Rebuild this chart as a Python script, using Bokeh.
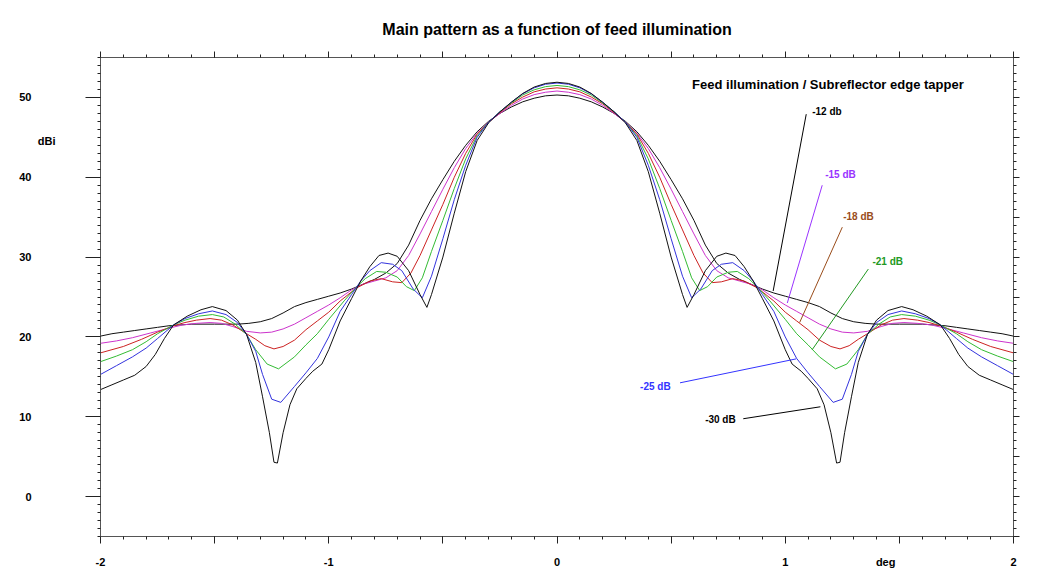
from bokeh.plotting import figure
from bokeh.models import LinearAxis, SingleIntervalTicker, FixedTicker, CustomLabelingPolicy
from bokeh.core.properties import value
from bokeh.embed import file_html
from bokeh.resources import INLINE

# ---------------- data ----------------
x_m12 = [-2.0, -1.95, -1.9, -1.85, -1.8, -1.75, -1.7, -1.6, -1.5, -1.4, -1.35, -1.3, -1.25, -1.2, -1.15, -1.1, -1.05, -1.0, -0.95, -0.9, -0.85, -0.8, -0.75, -0.7, -0.65, -0.6, -0.55, -0.5, -0.45, -0.4, -0.35, -0.3, -0.25, -0.2, -0.15, -0.1, -0.05, 0.0, 0.05, 0.1, 0.15, 0.2, 0.25, 0.3, 0.35, 0.4, 0.45, 0.5, 0.55, 0.6, 0.65, 0.7, 0.75, 0.8, 0.85, 0.9, 0.95, 1.0, 1.05, 1.1, 1.15, 1.2, 1.25, 1.3, 1.35, 1.4, 1.5, 1.6, 1.7, 1.75, 1.8, 1.85, 1.9, 1.95, 2.0]
y_m12 = [20.1, 20.4, 20.6, 20.8, 21.0, 21.2, 21.4, 21.6, 21.6, 21.6, 21.7, 21.9, 22.3, 23.0, 23.8, 24.3, 24.7, 25.1, 25.5, 26.0, 26.6, 27.2, 28.0, 29.2, 31.5, 34.6, 37.3, 39.7, 42.0, 44.0, 45.7, 47.0, 48.0, 48.8, 49.45, 49.9, 50.2, 50.3, 50.2, 49.9, 49.45, 48.8, 48.0, 47.0, 45.7, 44.0, 42.0, 39.7, 37.3, 34.6, 31.5, 29.2, 28.0, 27.2, 26.6, 26.0, 25.5, 25.1, 24.7, 24.3, 23.8, 23.0, 22.3, 21.9, 21.7, 21.6, 21.6, 21.6, 21.4, 21.2, 21.0, 20.8, 20.6, 20.4, 20.1]

x_m15 = [-2.0, -1.93, -1.86, -1.78, -1.7, -1.64, -1.58, -1.52, -1.47, -1.42, -1.36, -1.3, -1.25, -1.2, -1.15, -1.1, -1.05, -1.0, -0.95, -0.9, -0.85, -0.8, -0.75, -0.7, -0.65, -0.6, -0.55, -0.5, -0.45, -0.4, -0.35, -0.3, -0.25, -0.2, -0.15, -0.1, -0.05, 0.0, 0.05, 0.1, 0.15, 0.2, 0.25, 0.3, 0.35, 0.4, 0.45, 0.5, 0.55, 0.6, 0.65, 0.7, 0.75, 0.8, 0.85, 0.9, 0.95, 1.0, 1.05, 1.1, 1.15, 1.2, 1.25, 1.3, 1.36, 1.42, 1.47, 1.52, 1.58, 1.64, 1.7, 1.78, 1.86, 1.93, 2.0]
y_m15 = [19.2, 19.5, 19.9, 20.5, 21.1, 21.5, 21.7, 21.8, 21.7, 21.3, 20.7, 20.5, 20.6, 21.0, 21.6, 22.4, 23.2, 24.0, 24.9, 25.9, 26.6, 27.0, 27.4, 28.3, 30.2, 32.9, 35.7, 38.5, 41.2, 43.6, 45.5, 46.9, 48.0, 49.0, 49.8, 50.35, 50.65, 50.8, 50.65, 50.35, 49.8, 49.0, 48.0, 46.9, 45.5, 43.6, 41.2, 38.5, 35.7, 32.9, 30.2, 28.3, 27.4, 27.0, 26.6, 25.9, 24.9, 24.0, 23.2, 22.4, 21.6, 21.0, 20.6, 20.5, 20.7, 21.3, 21.7, 21.8, 21.7, 21.5, 21.1, 20.5, 19.9, 19.5, 19.2]

x_m18 = [-2.0, -1.9, -1.82, -1.75, -1.68, -1.63, -1.58, -1.52, -1.47, -1.42, -1.36, -1.32, -1.28, -1.24, -1.2, -1.15, -1.1, -1.05, -1.0, -0.95, -0.88, -0.82, -0.77, -0.72, -0.68, -0.64, -0.6, -0.55, -0.5, -0.45, -0.4, -0.35, -0.3, -0.25, -0.2, -0.15, -0.1, -0.05, 0.0, 0.05, 0.1, 0.15, 0.2, 0.25, 0.3, 0.35, 0.4, 0.45, 0.5, 0.55, 0.6, 0.64, 0.68, 0.72, 0.77, 0.82, 0.88, 0.95, 1.0, 1.05, 1.1, 1.15, 1.2, 1.24, 1.28, 1.32, 1.36, 1.42, 1.47, 1.52, 1.58, 1.63, 1.68, 1.75, 1.82, 1.9, 2.0]
y_m18 = [18.0, 18.8, 19.7, 20.6, 21.4, 21.8, 22.1, 22.3, 22.1, 21.5, 20.4, 19.7, 18.9, 18.5, 18.8, 19.6, 20.9, 22.0, 23.1, 24.5, 26.1, 27.0, 27.3, 26.9, 26.8, 28.0, 30.2, 33.4, 36.6, 40.0, 43.0, 45.4, 46.9, 48.1, 49.2, 50.05, 50.7, 51.05, 51.2, 51.05, 50.7, 50.05, 49.2, 48.1, 46.9, 45.4, 43.0, 40.0, 36.6, 33.4, 30.2, 28.0, 26.8, 26.9, 27.3, 27.0, 26.1, 24.5, 23.1, 22.0, 20.9, 19.6, 18.8, 18.5, 18.9, 19.7, 20.4, 21.5, 22.1, 22.3, 22.1, 21.8, 21.4, 20.6, 19.7, 18.8, 18.0]

x_m21 = [-2.0, -1.93, -1.86, -1.8, -1.75, -1.68, -1.63, -1.57, -1.51, -1.46, -1.41, -1.36, -1.32, -1.27, -1.22, -1.15, -1.1, -1.05, -1.0, -0.93, -0.88, -0.84, -0.79, -0.75, -0.7, -0.66, -0.625, -0.59, -0.55, -0.5, -0.45, -0.4, -0.35, -0.3, -0.25, -0.2, -0.15, -0.1, -0.05, 0.0, 0.05, 0.1, 0.15, 0.2, 0.25, 0.3, 0.35, 0.4, 0.45, 0.5, 0.55, 0.59, 0.625, 0.66, 0.7, 0.75, 0.79, 0.84, 0.88, 0.93, 1.0, 1.05, 1.1, 1.15, 1.22, 1.27, 1.32, 1.36, 1.41, 1.46, 1.51, 1.57, 1.63, 1.68, 1.75, 1.8, 1.86, 1.93, 2.0]
y_m21 = [16.9, 17.6, 18.4, 19.4, 20.4, 21.5, 22.1, 22.6, 22.8, 22.5, 21.6, 20.3, 18.4, 16.6, 16.0, 17.5, 19.0, 20.4, 22.2, 24.6, 26.2, 27.3, 28.2, 28.1, 27.5, 26.3, 25.8, 27.4, 30.7, 34.6, 38.6, 42.3, 45.2, 46.9, 48.2, 49.3, 50.3, 50.95, 51.35, 51.5, 51.35, 50.95, 50.3, 49.3, 48.2, 46.9, 45.2, 42.3, 38.6, 34.6, 30.7, 27.4, 25.8, 26.3, 27.5, 28.1, 28.2, 27.3, 26.2, 24.6, 22.2, 20.4, 19.0, 17.5, 16.0, 16.6, 18.4, 20.3, 21.6, 22.5, 22.8, 22.6, 22.1, 21.5, 20.4, 19.4, 18.4, 17.6, 16.9]

x_m25 = [-2.0, -1.93, -1.86, -1.8, -1.75, -1.68, -1.63, -1.57, -1.51, -1.45, -1.4, -1.36, -1.32, -1.29, -1.25, -1.21, -1.15, -1.1, -1.05, -1.0, -0.95, -0.9, -0.86, -0.82, -0.77, -0.72, -0.68, -0.63, -0.59, -0.55, -0.5, -0.45, -0.4, -0.35, -0.3, -0.25, -0.2, -0.15, -0.1, -0.05, 0.0, 0.05, 0.1, 0.15, 0.2, 0.25, 0.3, 0.35, 0.4, 0.45, 0.5, 0.55, 0.59, 0.63, 0.68, 0.72, 0.77, 0.82, 0.86, 0.9, 0.95, 1.0, 1.05, 1.1, 1.15, 1.21, 1.25, 1.29, 1.32, 1.36, 1.4, 1.45, 1.51, 1.57, 1.63, 1.68, 1.75, 1.8, 1.86, 1.93, 2.0]
y_m25 = [15.3, 16.4, 17.5, 18.6, 19.8, 21.5, 22.3, 22.9, 23.25, 22.8, 21.8, 20.3, 18.2, 15.3, 12.2, 11.8, 13.8, 15.5, 17.3, 20.0, 23.2, 25.3, 27.0, 28.3, 29.3, 29.1, 28.3, 26.0, 24.9, 27.6, 32.3, 37.2, 41.5, 45.0, 46.9, 48.2, 49.4, 50.45, 51.2, 51.65, 51.8, 51.65, 51.2, 50.45, 49.4, 48.2, 46.9, 45.0, 41.5, 37.2, 32.3, 27.6, 24.9, 26.0, 28.3, 29.1, 29.3, 28.3, 27.0, 25.3, 23.2, 20.0, 17.3, 15.5, 13.8, 11.8, 12.2, 15.3, 18.2, 20.3, 21.8, 22.8, 23.25, 22.9, 22.3, 21.5, 19.8, 18.6, 17.5, 16.4, 15.3]

x_m30 = [-2.0, -1.95, -1.9, -1.85, -1.8, -1.76, -1.72, -1.68, -1.62, -1.56, -1.51, -1.45, -1.4, -1.36, -1.32, -1.29, -1.26, -1.24, -1.225, -1.2, -1.17, -1.14, -1.1, -1.07, -1.03, -1.0, -0.95, -0.9, -0.86, -0.82, -0.78, -0.74, -0.7, -0.65, -0.6, -0.57, -0.55, -0.5, -0.45, -0.4, -0.35, -0.3, -0.25, -0.2, -0.15, -0.1, -0.05, 0.0, 0.05, 0.1, 0.15, 0.2, 0.25, 0.3, 0.35, 0.4, 0.45, 0.5, 0.55, 0.57, 0.6, 0.65, 0.7, 0.74, 0.78, 0.82, 0.86, 0.9, 0.95, 1.0, 1.03, 1.07, 1.1, 1.14, 1.17, 1.2, 1.225, 1.24, 1.26, 1.29, 1.32, 1.36, 1.4, 1.45, 1.51, 1.56, 1.62, 1.68, 1.72, 1.76, 1.8, 1.85, 1.9, 1.95, 2.0]
y_m30 = [13.4, 14.0, 14.6, 15.2, 16.3, 17.8, 19.8, 21.5, 22.6, 23.4, 23.8, 23.3, 22.1, 20.3, 16.8, 12.5, 8.0, 4.3, 4.2, 8.0, 11.5, 13.5, 14.8, 15.7, 16.6, 18.4, 22.0, 24.8, 27.0, 28.8, 30.2, 30.5, 30.1, 28.3, 25.3, 23.7, 25.3, 30.0, 35.5, 40.7, 44.6, 46.8, 48.2, 49.4, 50.5, 51.3, 51.75, 51.9, 51.75, 51.3, 50.5, 49.4, 48.2, 46.8, 44.6, 40.7, 35.5, 30.0, 25.3, 23.7, 25.3, 28.3, 30.1, 30.5, 30.2, 28.8, 27.0, 24.8, 22.0, 18.4, 16.6, 15.7, 14.8, 13.5, 11.5, 8.0, 4.2, 4.3, 8.0, 12.5, 16.8, 20.3, 22.1, 23.3, 23.8, 23.4, 22.6, 21.5, 19.8, 17.8, 16.3, 15.2, 14.6, 14.0, 13.4]

series_x = [x_m12, x_m15, x_m18, x_m21, x_m25, x_m30]
series_y = [y_m12, y_m15, y_m18, y_m21, y_m25, y_m30]
curve_colors = ["#111111", "#cc33cc", "#cc2222", "#33bb33", "#3333dd", "#111111"]

# callout labels with leader lines
ann_text = ["-12 db", "-15 dB", "-18 dB", "-21 dB", "-25 dB", "-30 dB"]
ann_x = [1.118, 1.175, 1.254, 1.382, 0.364, 0.649]
ann_y = [48.25, 40.4, 35.1, 29.5, 13.75, 9.6]
lead_x0 = [1.092, 1.162, 1.25, 1.364, 0.539, 0.816]
lead_y0 = [47.9, 39.0, 33.75, 28.5, 14.25, 9.75]
lead_x1 = [0.947, 1.009, 1.063, 1.118, 1.048, 1.154]
lead_y1 = [25.75, 24.25, 21.8, 18.4, 17.25, 11.25]
ann_colors = ["#000000", "#9933ff", "#994c1a", "#229922", "#3333ff", "#000000"]

# axis labels
x_label_ticks = [-2, -1, 0, 1, 1.44, 2]
x_label_text = {-2: "-2", -1: "-1", 0: "0", 1: "1", 1.44: "deg", 2: "2"}
y_label_ticks = [0, 10, 20, 30, 40, 50]
y_unit_tick = [44.6]
y_unit_text = {44.6: "dBi"}

FONT = "Liberation Sans"

p = figure(width=1031, height=572, x_range=(-2, 2), y_range=(-5, 55),
           output_backend="svg", toolbar_location=None,
           x_axis_location=None, y_axis_location=None,
           min_border_left=100, min_border_right=18, min_border_top=57, min_border_bottom=36,
           background_fill_color="white", border_fill_color="white")
p.outline_line_color = None
p.xgrid.grid_line_color = None
p.ygrid.grid_line_color = None

p.title.text = "Main pattern as a function of feed illumination"
p.title.align = "center"
p.title.text_font = FONT
p.title.text_font_size = "16px"
p.title.text_font_style = "bold"
p.title.text_color = "#000000"
p.title.standoff = 28

NO_LABELS = "return new Set()"


def tick_axis(ticker, tick_out, minor_out):
    ax = LinearAxis(ticker=ticker)
    ax.axis_line_color = "#555555"
    ax.major_tick_line_color = "#222222"
    ax.minor_tick_line_color = "#222222"
    ax.major_tick_in = 0
    ax.minor_tick_in = 0
    ax.major_tick_out = tick_out
    ax.minor_tick_out = minor_out
    ax.major_label_text_font_size = "0px"
    ax.major_label_standoff = 0
    ax.major_label_policy = CustomLabelingPolicy(code=NO_LABELS)
    return ax


def label_axis(ticks, overrides, standoff):
    ax = LinearAxis(ticker=FixedTicker(ticks=ticks, minor_ticks=[]))
    ax.axis_line_color = None
    ax.major_tick_line_color = None
    ax.minor_tick_line_color = None
    ax.major_tick_in = 0
    ax.major_tick_out = 0
    ax.minor_tick_in = 0
    ax.minor_tick_out = 0
    ax.major_label_standoff = standoff
    ax.major_label_text_font = FONT
    ax.major_label_text_font_style = "bold"
    ax.major_label_text_font_size = "11px"
    ax.major_label_text_color = "#000000"
    if overrides:
        ax.major_label_overrides = overrides
    return ax


# left side: ticks, unit label, numbers (stacked outward)
p.add_layout(tick_axis(SingleIntervalTicker(interval=10, num_minor_ticks=10), 15, 3), "left")
p.add_layout(label_axis(y_unit_tick, y_unit_text, 30), "left")
p.add_layout(label_axis(y_label_ticks, None, 3), "left")

# bottom: ticks, then labels
p.add_layout(tick_axis(SingleIntervalTicker(interval=0.5, num_minor_ticks=5), 7, 3), "below")
p.add_layout(label_axis(x_label_ticks, x_label_text, 12), "below")

# right and top: ticks only
p.add_layout(tick_axis(SingleIntervalTicker(interval=5, num_minor_ticks=5), 6, 3), "right")
p.add_layout(tick_axis(SingleIntervalTicker(interval=0.5, num_minor_ticks=5), 6, 3), "above")

for xs, ys, c in zip(series_x, series_y, curve_colors):
    assert len(xs) == len(ys)
    p.line(xs, ys, line_color=c, line_width=1)

p.segment(x0=lead_x0, y0=lead_y0, x1=lead_x1, y1=lead_y1, line_color=ann_colors, line_width=1)
p.text(x=ann_x, y=ann_y, text=ann_text, text_color=ann_colors,
       text_font=value(FONT), text_font_style="bold", text_font_size="10px",
       text_baseline="middle", text_align="left")

p.text(x=[0.592], y=[51.6], text=["Feed illumination / Subreflector edge tapper"],
       text_color="#000000", text_font=value(FONT), text_font_style="bold",
       text_font_size="13px", text_baseline="middle", text_align="left")

open("out.html", "w").write(file_html(p, INLINE))
